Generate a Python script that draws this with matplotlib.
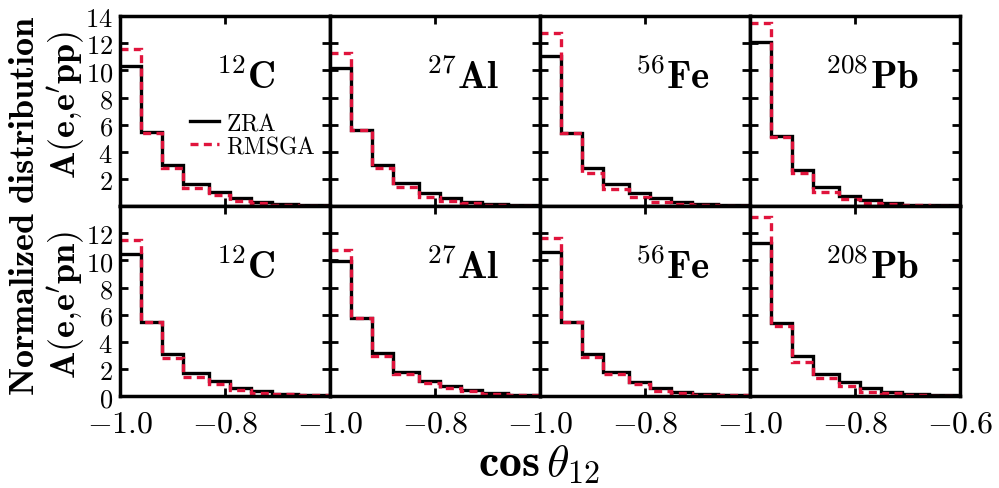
import numpy as np
import matplotlib
matplotlib.use("Agg")
import matplotlib.pyplot as plt

plt.rcParams['mathtext.fontset'] = 'cm'
plt.rcParams['font.family'] = 'serif'

# ==========================================
# Data
# ==========================================
bin_edges = [-1.0, -0.96, -0.92, -0.88, -0.83, -0.79, -0.75, -0.71, -0.66, -0.6]

nuclei = [r'$^{12}\mathbf{C}$', r'$^{27}\mathbf{Al}$', r'$^{56}\mathbf{Fe}$', r'$^{208}\mathbf{Pb}$']

# A(e,e'pp)
pp_zra = [
    [10.3, 5.45, 3.04, 1.65, 1.02, 0.58, 0.32, 0.15, 0.07],
    [10.2, 5.63, 3.04, 1.68, 0.99, 0.62, 0.32, 0.14, 0.07],
    [11.06, 5.38, 2.79, 1.63, 0.94, 0.57, 0.30, 0.13, 0.06],
    [12.1, 5.19, 2.67, 1.38, 0.74, 0.44, 0.25, 0.11, 0.05],
]
pp_rmsga = [
    [11.55, 5.40, 2.79, 1.33, 0.81, 0.39, 0.20, 0.09, 0.04],
    [11.26, 5.63, 2.79, 1.43, 0.69, 0.39, 0.20, 0.09, 0.04],
    [12.74, 5.38, 2.42, 1.26, 0.64, 0.30, 0.15, 0.07, 0.03],
    [13.5, 5.09, 2.42, 1.06, 0.50, 0.25, 0.12, 0.06, 0.03],
]

# A(e,e'pn)
pn_zra = [
    [10.48, 5.45, 3.08, 1.73, 1.12, 0.63, 0.39, 0.18, 0.08],
    [9.92, 5.77, 3.15, 1.78, 1.12, 0.76, 0.44, 0.20, 0.10],
    [10.65, 5.45, 3.08, 1.78, 1.05, 0.56, 0.30, 0.15, 0.07],
    [11.31, 5.35, 2.96, 1.66, 1.00, 0.56, 0.30, 0.15, 0.07],
]
pn_rmsga = [
    [11.5, 5.45, 2.83, 1.44, 0.88, 0.46, 0.24, 0.12, 0.05],
    [10.78, 5.77, 2.96, 1.61, 0.95, 0.56, 0.37, 0.15, 0.08],
    [11.63, 5.45, 2.91, 1.61, 0.88, 0.39, 0.20, 0.10, 0.05],
    [13.2, 5.20, 2.52, 1.30, 0.76, 0.32, 0.20, 0.09, 0.04],
]

x_ticks = [-1.0, -0.8, -0.6]
top_yticks = [2, 4, 6, 8, 10, 12, 14]
bot_yticks = [0, 2, 4, 6, 8, 10, 12]

# label x-positions in axes coords (layout only)
label_x = [0.60, 0.63, 0.63, 0.58]

RED = '#e0143c'

fig, axes = plt.subplots(2, 4, figsize=(9.99, 4.89), dpi=100)
fig.subplots_adjust(left=0.120, right=0.961, top=0.965, bottom=0.188, wspace=0, hspace=0)

rows = [(pp_zra, pp_rmsga, top_yticks), (pn_zra, pn_rmsga, bot_yticks)]

for r, (zra, rmsga, yt) in enumerate(rows):
    for c in range(4):
        ax = axes[r, c]
        ax.stairs(zra[c], bin_edges, color='black', lw=2.4, label=r'$\mathrm{ZRA}$', baseline=None)
        ax.stairs(rmsga[c], bin_edges, color=RED, lw=2.4, ls=(0, (2.4, 1.6)),
                  label=r'$\mathrm{RMSGA}$', baseline=None)
        ax.set_xlim(-1.0, -0.6)
        ax.set_ylim(0, 14)
        for s in ax.spines.values():
            s.set_linewidth(2.5)
        ax.tick_params(which='both', direction='in', top=True, right=True,
                       length=6, width=2, pad=5)
        ax.tick_params(axis='x', pad=8)
        ax.set_yticks(yt)
        if c == 0:
            ax.set_yticklabels([r'$%d$' % v for v in yt], fontsize=19)
        else:
            ax.set_yticklabels([])
        # the -0.6 tick sits on the shared spine, only the last column labels it
        xt = x_ticks if c == 3 else x_ticks[:2]
        ax.set_xticks(xt)
        if r == 1:
            ax.set_xticklabels([r'$%.1f$' % v for v in xt], fontsize=23)
        else:
            ax.set_xticklabels([])
        ax.text(label_x[c], 0.68, nuclei[c], transform=ax.transAxes,
                ha='center', va='center', fontsize=28)

axes[0, 0].legend(loc='upper left', bbox_to_anchor=(0.28, 0.56), frameon=False,
                  handlelength=1.2, handletextpad=0.3, labelspacing=0.0,
                  borderpad=0, prop={'size': 17})

fig.text(0.024, 0.58, r'$\mathbf{Normalized\ distribution}$', rotation=90,
         ha='center', va='center', fontsize=26)
fig.text(0.066, 0.785, r"$\mathbf{A(e{,}e'pp)}$", rotation=90,
         ha='center', va='center', fontsize=26)
fig.text(0.066, 0.376, r"$\mathbf{A(e{,}e'pn)}$", rotation=90,
         ha='center', va='center', fontsize=26)
fig.text(0.54, 0.006, r'$\mathbf{cos}\,\theta_{\mathbf{12}}$',
         ha='center', va='bottom', fontsize=33)

fig.savefig('out.png', dpi=100)
